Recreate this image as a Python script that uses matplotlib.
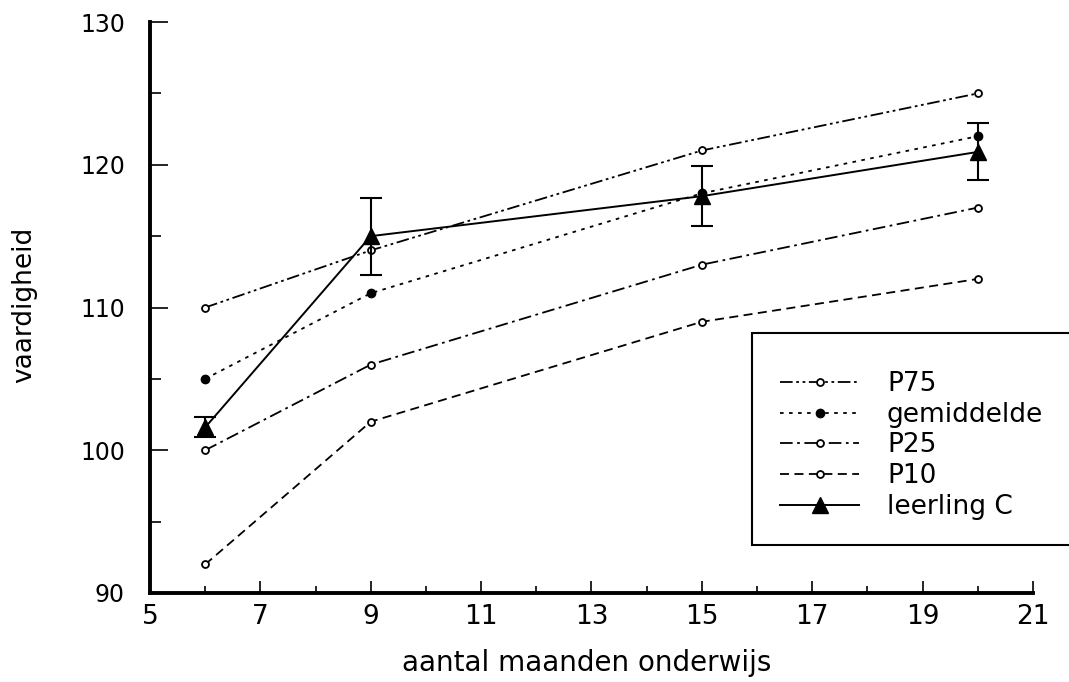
import matplotlib
matplotlib.use("Agg")
import matplotlib.pyplot as plt
from matplotlib.patches import Rectangle
from matplotlib.ticker import FixedLocator, MultipleLocator

maanden = [6, 9, 15, 20]
p75 = [110, 114, 121, 125]
gemiddelde = [105, 111, 118, 122]
p25 = [100, 106, 113, 117]
p10 = [92, 102, 109, 112]
leerling_c = [101.6, 115.0, 117.8, 120.9]
leerling_c_fout = [0.7, 2.7, 2.1, 2.0]
x_ticks = [5, 7, 9, 11, 13, 15, 17, 19, 21]

plt.rcParams["font.family"] = ["DejaVu Sans"]

fig = plt.figure(figsize=(10.69, 6.82), dpi=100)
ax = fig.add_axes([0.1403, 0.1305, 0.826, 0.8372])

open_marker = dict(marker="o", markersize=5, markerfacecolor="white",
                   markeredgecolor="black", markeredgewidth=1.3)

ax.plot(maanden, p75, color="black", lw=1.3,
        dashes=(7, 2, 1.5, 2, 1.5, 2), label="P75", **open_marker)
ax.plot(maanden, gemiddelde, color="black", lw=1.3, dashes=(2, 3),
        marker="o", markersize=6, markerfacecolor="black", label="gemiddelde")
ax.plot(maanden, p25, color="black", lw=1.3, dashes=(7, 2.5, 1.5, 2.5),
        label="P25", **open_marker)
ax.plot(maanden, p10, color="black", lw=1.3, dashes=(5, 3),
        label="P10", **open_marker)
ax.errorbar(maanden, leerling_c, yerr=leerling_c_fout, fmt="none",
            ecolor="black", capsize=8, elinewidth=1.5, capthick=1.5)
ax.plot(maanden, leerling_c, color="black", lw=1.4, marker="^",
        markersize=11, label="leerling C")

ax.set_xlim(5, 21)
ax.set_ylim(90, 130)
ax.xaxis.set_major_locator(FixedLocator(x_ticks))
ax.xaxis.set_minor_locator(MultipleLocator(1))
ax.yaxis.set_major_locator(MultipleLocator(10))
ax.yaxis.set_minor_locator(MultipleLocator(5))
ax.tick_params(which="both", direction="in", width=1.2, top=False, right=False)
ax.tick_params(axis="x", which="major", length=9, pad=8, labelsize=19)
ax.tick_params(axis="x", which="minor", length=5)
ax.tick_params(axis="y", which="major", length=13, pad=18, labelsize=17)
ax.tick_params(axis="y", which="minor", length=8)

for side in ("top", "right"):
    ax.spines[side].set_visible(False)
for side in ("left", "bottom"):
    ax.spines[side].set_linewidth(2.8)

ax.set_xlabel("aantal maanden onderwijs", fontsize=20)
ax.set_ylabel("vaardigheid", fontsize=19)
ax.xaxis.set_label_coords(0.495, -0.098)
ax.yaxis.set_label_coords(-0.128, 0.504)

fig.patches.append(Rectangle((752 / 1069, 1 - 545 / 682), 0.35, 212 / 682,
                             transform=fig.transFigure, facecolor="white",
                             edgecolor="black", linewidth=1.5, zorder=5))

handles, labels = ax.get_legend_handles_labels()
leg = fig.legend(handles, labels, loc="upper left",
                 bbox_to_anchor=(780 / 1069, 1 - 371 / 682),
                 bbox_transform=fig.transFigure, fontsize=19,
                 handlelength=3.0, handletextpad=1.05, labelspacing=0.18,
                 borderpad=0, borderaxespad=0, frameon=False)
leg.set_zorder(6)

fig.savefig("out.png", dpi=100)
